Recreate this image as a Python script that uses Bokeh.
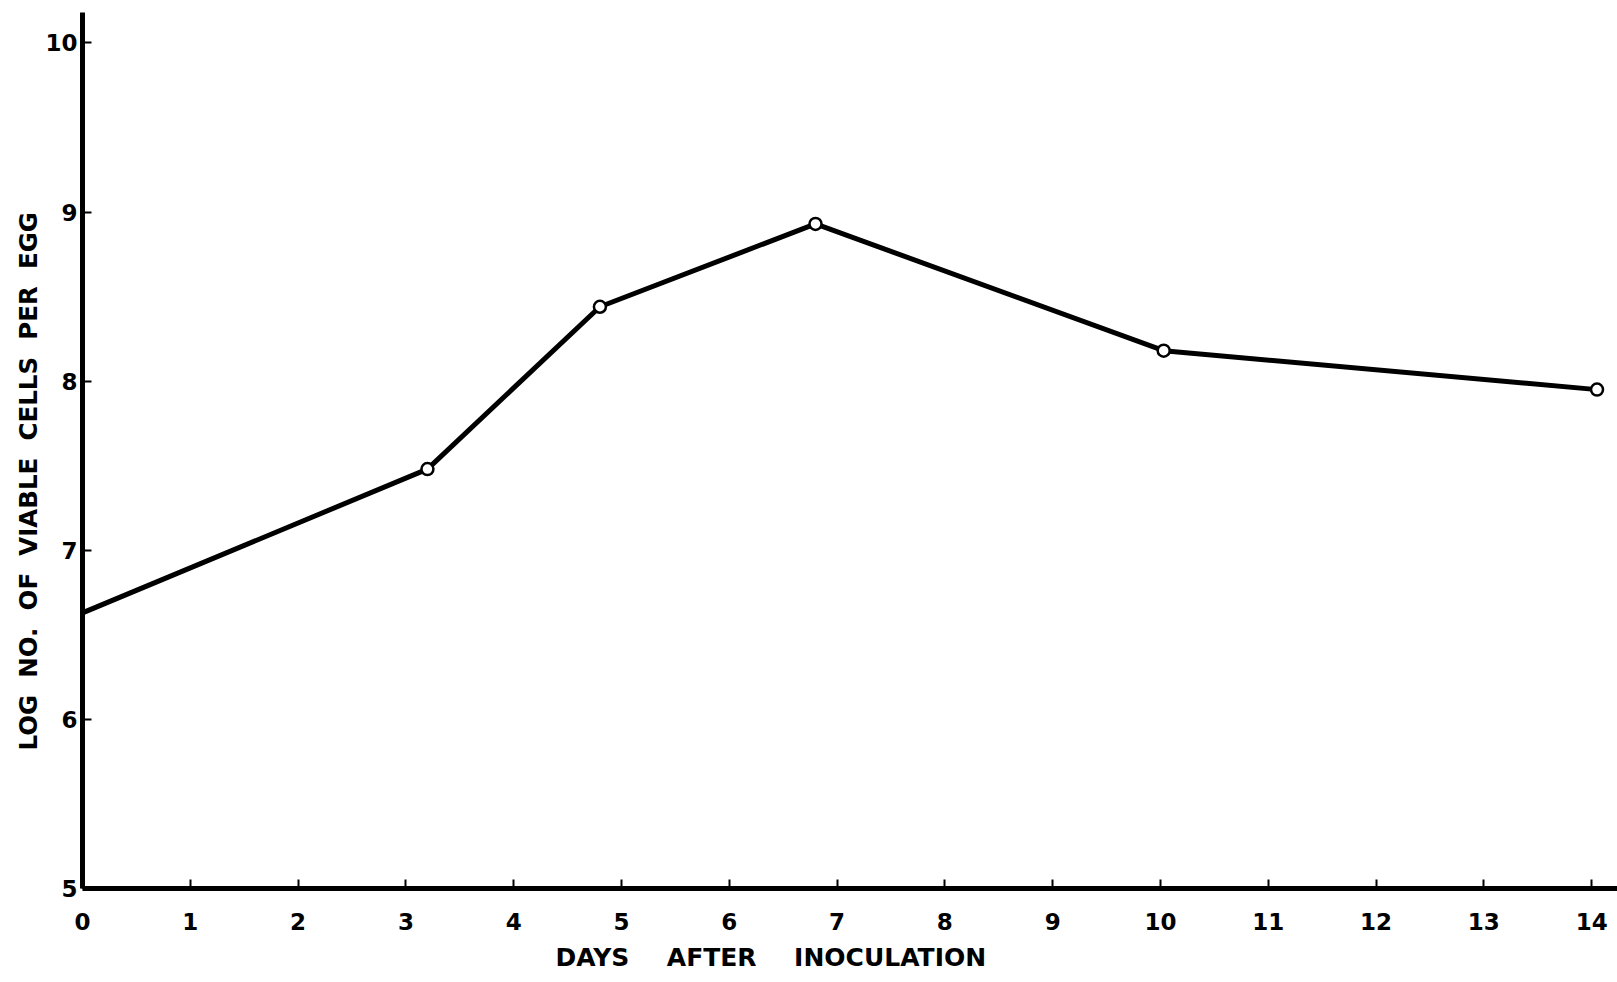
from bokeh.plotting import figure
from bokeh.models import Range1d, FixedTicker, Title
from bokeh.embed import file_html
from bokeh.resources import INLINE

# Data
days = [0, 3.2, 4.8, 6.8, 10.03, 14.05]
log_cells = [6.63, 7.48, 8.44, 8.93, 8.18, 7.95]
marker_days = days[1:]
marker_cells = log_cells[1:]
x_ticks = list(range(0, 15))
y_ticks = [5, 6, 7, 8, 9, 10]
x_label = "DAYS\u2003\u2002AFTER\u2003\u2002INOCULATION"
y_label = "LOG\u2002\u2009NO.\u2002\u2009OF\u2002\u2009VIABLE\u2002\u2009CELLS\u2002\u2009PER\u2002\u2009EGG"

FONT = "DejaVu Sans"

p = figure(width=1617, height=980, output_backend="svg", toolbar_location=None,
           x_range=Range1d(0, 14.24), y_range=Range1d(5, 10.18),
           min_border_left=82, min_border_right=0, min_border_top=12,
           min_border_bottom=92)
p.outline_line_color = None
p.grid.visible = False
p.background_fill_color = "white"

p.line(days, log_cells, line_color="black", line_width=5)
p.scatter(marker_days, marker_cells, marker="circle", size=12,
          fill_color="white", line_color="black", line_width=2.5)

for ax in (p.xaxis[0], p.yaxis[0]):
    ax.axis_line_width = 5
    ax.axis_line_color = "black"
    ax.major_tick_in = 9
    ax.major_tick_out = 0
    ax.major_tick_line_width = 2
    ax.major_tick_line_color = "black"
    ax.minor_tick_line_color = None
    ax.major_label_text_font = FONT
    ax.major_label_text_font_size = "23px"
    ax.major_label_text_font_style = "bold"
    ax.major_label_text_color = "black"

p.xaxis[0].ticker = FixedTicker(ticks=x_ticks)
p.yaxis[0].ticker = FixedTicker(ticks=y_ticks)
p.xaxis[0].major_label_standoff = 24
p.yaxis[0].major_label_standoff = 5
p.yaxis[0].major_label_orientation = "horizontal"

xt = Title(text=x_label, align="left", offset=473,
           text_font=FONT, text_font_size="25px", text_font_style="bold",
           text_color="black", standoff=16)
p.add_layout(xt, "below")

yt = Title(text=y_label, align="left", offset=138,
           text_font=FONT, text_font_size="24.5px", text_font_style="bold",
           text_color="black", standoff=0)
p.add_layout(yt, "left")

open("out.html", "w").write(file_html(p, INLINE))
